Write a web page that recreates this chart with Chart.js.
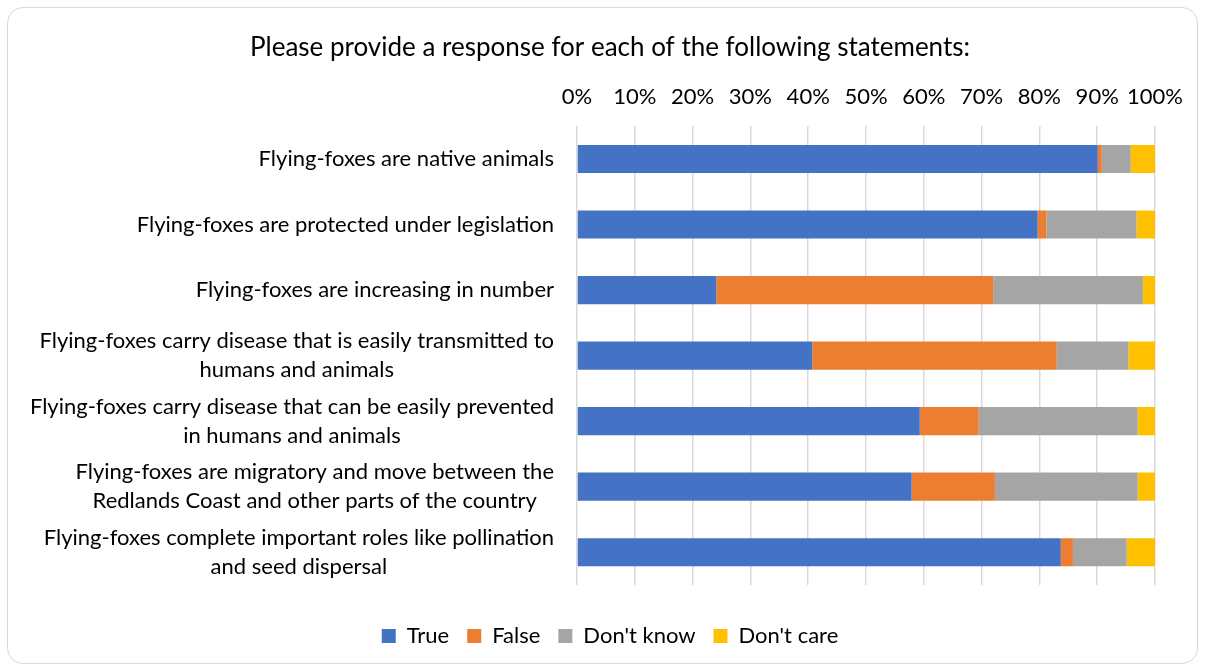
<!DOCTYPE html>
<html>
<head>
<meta charset="utf-8">
<script src="https://cdn.jsdelivr.net/npm/chart.js@4"></script>
<style>
  html, body { margin: 0; padding: 0; background: #ffffff; }
  #frame { position: absolute; left: 7px; top: 7px; width: 1189px; height: 655px;
           border: 1px solid #d9d9d9; border-radius: 16px; }
  #wrap { position: absolute; left: 0; top: 0; width: 1205px; height: 671px; }
</style>
</head>
<body>
<div id="frame"></div>
<div id="wrap"><canvas id="chart" width="1205" height="671"></canvas></div>
<script>
// Survey statements (one entry per bar, split into display lines)
const statements = [
  ["Flying-foxes are native animals"],
  ["Flying-foxes are protected under legislation"],
  ["Flying-foxes are increasing in number"],
  ["Flying-foxes carry disease that is easily transmitted to", "humans and animals"],
  ["Flying-foxes carry disease that can be easily prevented", "in humans and animals"],
  ["Flying-foxes are migratory and move between the", "Redlands Coast and other parts of the country"],
  ["Flying-foxes complete important roles like pollination", "and seed dispersal"]
];

// Share of responses (%) for each statement
const trueShare     = [90.1, 79.7, 24.1, 40.7, 59.3, 57.9, 83.7];
const falseShare    = [0.7,  1.5,  47.9, 42.3, 10.2, 14.4, 2.1];
const dontKnowShare = [5.0,  15.6, 25.9, 12.4, 27.5, 24.7, 9.3];
const dontCareShare = [4.2,  3.2,  2.1,  4.6,  3.0,  3.0,  4.9];

// Axis tick values (%)
const percentTicks = [0, 10, 20, 30, 40, 50, 60, 70, 80, 90, 100];

const FONT = "Lato, 'Open Sans', sans-serif";
const LABEL_SIZE = 22;

// Draws the statement labels: multi-line labels are centred within their block,
// and each block is right-aligned against the plot area.
const statementLabels = {
  id: 'statementLabels',
  afterDraw(chart) {
    const ctx = chart.ctx;
    const yScale = chart.scales.y;
    const right = chart.chartArea.left - 23;
    const lineHeight = 29;
    ctx.save();
    ctx.font = LABEL_SIZE + 'px ' + FONT;
    ctx.fillStyle = '#000000';
    ctx.textBaseline = 'middle';
    ctx.textAlign = 'center';
    statements.forEach((lines, i) => {
      const cy = yScale.getPixelForTick(i);
      const blockWidth = Math.max(...lines.map(l => ctx.measureText(l).width));
      const cx = right - blockWidth / 2;
      lines.forEach((line, j) => {
        ctx.fillText(line, cx, cy + (j - (lines.length - 1) / 2) * lineHeight);
      });
    });
    ctx.restore();
  }
};

const seriesDefs = [
  { label: 'True',       data: trueShare,     color: '#4472C4' },
  { label: 'False',      data: falseShare,    color: '#ED7D31' },
  { label: "Don't know", data: dontKnowShare, color: '#A5A5A5' },
  { label: "Don't care", data: dontCareShare, color: '#FFC000' }
];

new Chart(document.getElementById('chart'), {
  type: 'bar',
  data: {
    labels: statements,
    datasets: seriesDefs.map(s => ({
      label: s.label,
      data: s.data,
      backgroundColor: s.color,
      borderWidth: 0,
      categoryPercentage: 1,
      barPercentage: 0.43
    }))
  },
  options: {
    indexAxis: 'y',
    responsive: false,
    animation: false,
    devicePixelRatio: 1,
    layout: { padding: { left: 65, right: 50, top: 0, bottom: 14 } },
    plugins: {
      title: {
        display: true,
        text: 'Please provide a response for each of the following statements:',
        color: '#000000',
        font: { family: FONT, size: 26, weight: 'normal', lineHeight: 1.2 },
        padding: { top: 32, bottom: 0 }
      },
      legend: {
        position: 'bottom',
        title: {
          display: true,
          text: ' ',
          font: { family: FONT, size: 10, lineHeight: 1.2 },
          padding: { top: 10, bottom: 0 }
        },
        labels: {
          color: '#000000',
          font: { family: FONT, size: LABEL_SIZE },
          boxWidth: 14,
          boxHeight: 14,
          padding: 18
        }
      },
      tooltip: { enabled: false }
    },
    scales: {
      x: {
        position: 'top',
        stacked: true,
        min: 0,
        max: 100,
        afterBuildTicks(scale) {
          scale.ticks = percentTicks.map(v => ({ value: v }));
        },
        afterFit(scale) { scale.height = 63; },
        ticks: {
          color: '#000000',
          font: { family: FONT, size: LABEL_SIZE },
          padding: 16,
          maxRotation: 0,
          minRotation: 0,
          autoSkip: false,
          callback: v => v + '%'
        },
        grid: { color: '#d9d9d9', lineWidth: 1.5, drawTicks: false },
        border: { display: false }
      },
      y: {
        stacked: true,
        afterFit(scale) { scale.width = 512; },
        ticks: { display: false },
        grid: { display: false },
        border: { display: false }
      }
    }
  },
  plugins: [statementLabels]
});
</script>
</body>
</html>
